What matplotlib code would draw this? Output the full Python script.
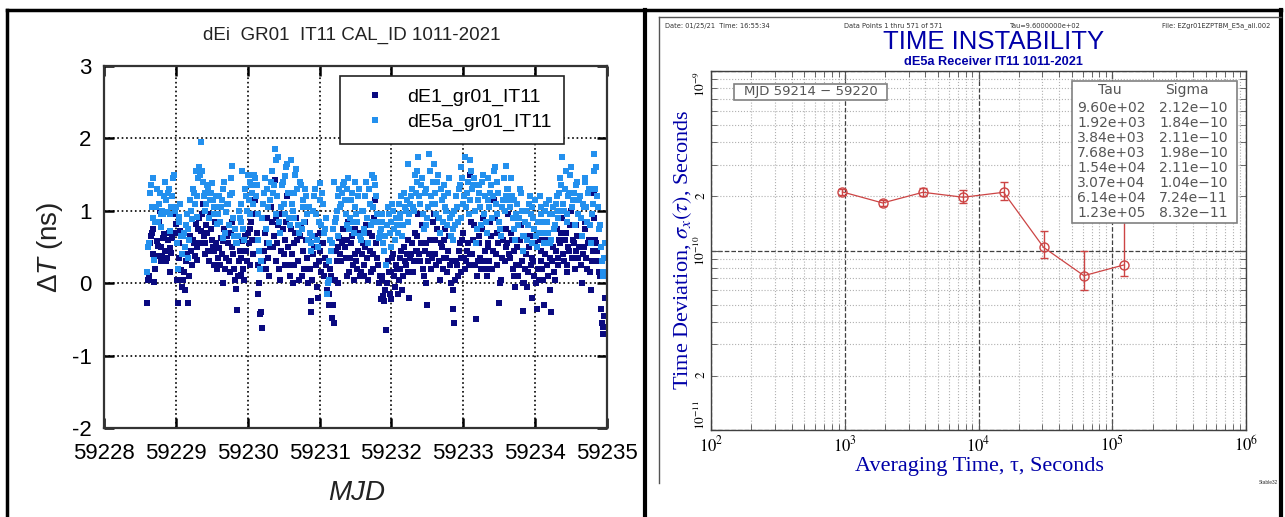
import matplotlib
matplotlib.use('Agg')
import matplotlib.pyplot as plt
from matplotlib import font_manager
from matplotlib.lines import Line2D
from matplotlib.ticker import FuncFormatter, NullFormatter
import numpy as np

W, H = 1285, 517
plt.rcParams['font.family'] = ['Liberation Sans', 'DejaVu Sans']
plt.rcParams['mathtext.fontset'] = 'stix'
plt.rcParams['mathtext.rm'] = 'Liberation Sans'
plt.rcParams['mathtext.it'] = 'Liberation Sans:italic'

# narrow face for the Stable32 titles if it is there
try:
    font_manager.findfont('Liberation Sans Narrow', fallback_to_default=False)
    narrow, title_fs, sub_fs = 'Liberation Sans Narrow', 23, 11
except Exception:
    narrow, title_fs, sub_fs = 'Liberation Sans', 18.5, 9.2

# ---------------- left panel data: delta T (ns), one value every 0.025 d
# plus a second list for the samples half way between
t_start = 59228.60
t_step = 0.025
dE1 = [
    -0.28, 0.10, 0.65, 0.75, 0.02, 0.38, 0.52, 1.00, 0.30, 0.62,
    0.45, 0.35, 0.70, 0.15, 0.62, 1.05, 0.82, -0.27, 0.55, 0.18,
    0.05, -0.10, 0.40, -0.27, 0.65, 0.25, 0.55, 0.82, 0.32, 0.90,
    0.72, 1.10, 0.55, 0.80, 0.45, 0.95, 0.60, 0.25, 0.85, 0.20,
    0.48, 0.62, 0.00, 0.75, 0.35, 0.55, 0.15, 0.85, 0.40, 0.05,
    -0.37, 0.30, 0.12, 0.58, 0.05, 0.45, 0.70, 0.25, 0.85, 0.40,
    1.15, 0.70, -0.15, -0.42, -0.62, 0.45, 0.20, 0.90, 0.10, 1.05,
    0.50, 1.42, 0.30, 0.80, 0.05, 0.95, 0.40, 0.60, 1.20, 0.25,
    0.75, 0.00, 0.55, 0.90, 0.30, 0.65, 0.10, 0.45, 0.85, 0.35,
    0.60, -0.40, 0.05, 0.50, 0.25, -0.20, 0.70, 0.15, 0.55, 0.35,
    -0.10, -0.30, 0.20, -0.48, -0.55, 0.45, 0.00, 0.62, 0.30, 0.75,
    0.50, 0.10, 0.85, 0.35, 0.65, 0.05, 0.40, 0.20, 0.70, 0.15,
    0.55, 0.25, 0.80, 0.05, 0.45, 0.65, 0.20, 1.15, 0.35, 0.00,
    -0.22, 0.10, -0.25, -0.65, 0.30, -0.15, 0.15, 0.40, -0.05, 0.20,
    0.05, 0.35, -0.10, 0.50, 0.25, 0.60, -0.20, 0.40, 0.15, 0.70,
    0.45, 0.95, 0.30, 0.80, 0.10, 0.55, -0.30, 0.40, 0.20, 0.85,
    0.60, 0.25, 0.90, 0.05, 0.50, 0.35, 0.75, 0.15, 0.65, 0.00,
    -0.35, -0.55, 0.30, 0.10, 0.55, 0.35, 0.70, 0.20, 0.45, 0.25,
    1.50, 0.40, 0.80, -0.50, 0.30, 0.65, 0.20, 0.90, 0.45, 0.10,
    0.55, 0.85, 0.20, 1.15, 0.40, 0.70, -0.28, 0.05, 0.60, 0.30,
    0.75, 0.95, 0.35, 0.60, 0.10, -0.05, 0.50, 0.25, 0.80, -0.38,
    0.00, 0.40, 0.15, 0.65, -0.20, 0.30, 0.55, -0.35, 0.05, 0.45,
    0.20, -0.30, 0.60, 0.10, 0.35, -0.40, 0.50, 0.05, 0.75, 0.25,
    0.55, 0.90, 0.30, 0.70, 0.15, 0.45, 1.00, 0.60, 0.20, 0.80,
    0.35, 0.65, 0.00, 0.50, 0.85, 0.20, 0.60, -0.10, 0.45, 1.25,
    0.55, 0.30, 0.10, -0.55, -0.70, -0.20,
]
dE1_mid = [
    0.05, 0.55, 0.70, 0.40, 0.20, 0.58, 0.85, 0.50, 0.38, 0.68,
    0.30, 0.60, 0.48, 0.42, 0.95, 0.70, 0.05, 0.35, 0.72, -0.05,
    0.15, 0.30, -0.27, 0.10, 0.45, 0.60, 0.38, 0.50, 0.75, 0.55,
    0.95, 0.65, 0.40, 0.70, 0.30, 0.75, 0.50, 0.45, 0.55, 0.35,
    0.25, 0.40, 0.58, 0.20, 0.65, 0.30, 0.70, 0.50, 0.20, -0.08,
    0.10, 0.45, 0.35, 0.20, 0.65, 0.30, 0.55, 0.75, 0.60, 0.95,
    0.60, 0.25, 0.00, -0.40, 0.30, 0.70, 0.55, 0.35, 0.50, 0.85,
    0.65, 0.90, 0.55, 0.20, 0.45, 0.75, 0.25, 0.85, 0.50, 0.10,
    0.40, 0.25, 0.70, 0.60, 0.05, 0.80, 0.45, 0.20, 0.60, 0.00,
    0.20, -0.25, 0.40, 0.65, -0.05, 0.30, 0.45, 0.55, 0.10, 0.25,
    0.00, -0.15, 0.10, -0.30, 0.05, 0.30, 0.50, 0.40, 0.55, 0.60,
    0.35, 0.60, 0.15, 0.55, 0.25, 0.75, 0.30, 0.45, 0.10, 0.40,
    0.10, 0.50, 0.35, 0.70, 0.15, 0.40, 0.90, 0.55, 0.25, 0.10,
    0.05, -0.18, -0.10, 0.00, 0.15, -0.22, 0.35, 0.10, 0.25, -0.15,
    0.20, 0.45, 0.10, 0.30, 0.40, 0.15, 0.35, 0.55, 0.30, 0.45,
    0.65, 0.40, 0.55, 0.20, 0.45, 0.00, 0.30, 0.60, 0.35, 0.95,
    0.40, 0.75, 0.30, 0.55, 0.20, 0.60, 0.35, 0.45, 0.25, 0.30,
    -0.10, 0.05, 0.25, 0.45, 0.15, 0.60, 0.35, 0.30, 0.55, 0.40,
    0.85, 0.60, 0.25, 0.10, 0.55, 0.35, 0.75, 0.30, 0.20, 0.50,
    0.30, 0.65, 0.45, 0.90, 0.25, 0.55, 0.00, 0.35, 0.75, 0.50,
    0.55, 0.40, 0.70, 0.20, 0.45, 0.25, 0.10, 0.60, 0.30, 0.00,
    0.20, -0.05, 0.50, 0.25, 0.35, 0.10, 0.00, 0.20, 0.60, 0.30,
    0.05, 0.40, 0.25, 0.55, -0.10, 0.30, 0.15, 0.45, 0.35, 0.60,
    0.70, 0.40, 0.60, 0.25, 0.50, 0.80, 0.35, 0.55, 0.45, 0.65,
    0.50, 0.25, 0.40, 0.75, 0.35, 0.55, 0.15, 0.30, 0.90, 0.60,
    0.45, 0.15, -0.35, -0.60, -0.45,
]
dE5a = [
    0.15, 0.55, 1.35, 1.45, 0.32, 1.05, 0.85, 1.25, 0.78, 0.95,
    1.40, 0.98, 1.30, 0.72, 1.20, 1.50, 1.05, 0.20, 0.92, 0.65,
    0.65, 0.50, 0.95, 0.75, 1.15, 0.88, 1.25, 1.55, 0.92, 1.60,
    1.95, 1.40, 1.25, 1.10, 1.30, 1.15, 1.38, 0.95, 1.05, 0.82,
    1.20, 1.05, 0.62, 1.40, 0.98, 1.10, 1.22, 1.62, 0.90, 0.75,
    0.55, 1.00, 0.85, 1.55, 0.60, 1.20, 1.50, 0.95, 1.35, 1.10,
    1.45, 1.35, 0.60, 0.20, 0.90, 1.25, 0.75, 1.30, 0.55, 1.40,
    1.25, 1.85, 0.95, 1.75, 0.70, 1.35, 1.10, 1.48, 1.65, 0.90,
    1.70, 1.00, 1.25, 1.58, 0.80, 1.40, 0.75, 1.15, 1.30, 0.95,
    1.05, 0.45, 0.65, 1.20, 0.95, 0.50, 1.38, 0.80, 1.10, 0.75,
    -0.15, 0.05, 0.60, 0.55, 1.40, 0.90, 0.65, 1.30, 1.10, 1.35,
    1.15, 0.80, 1.45, 0.90, 1.25, 0.70, 1.05, 0.85, 1.30, 0.60,
    1.00, 0.75, 1.40, 0.55, 1.10, 1.50, 0.85, 1.35, 0.95, 0.62,
    0.75, 0.95, 0.45, 0.25, 1.05, 0.70, 0.85, 1.00, 0.60, 0.80,
    1.10, 0.90, 0.65, 1.25, 1.00, 1.65, 0.95, 1.20, 1.05, 1.50,
    1.55, 1.75, 1.10, 1.45, 0.75, 1.30, 0.90, 1.78, 1.20, 1.40,
    1.25, 0.95, 1.50, 0.70, 1.15, 1.35, 1.05, 0.80, 1.45, 0.65,
    0.60, 1.00, 1.20, 0.85, 1.35, 1.60, 1.10, 1.75, 1.25, 0.95,
    1.70, 1.30, 1.45, 0.55, 1.15, 1.35, 0.80, 1.50, 1.20, 0.70,
    1.45, 1.25, 0.90, 1.55, 1.10, 1.40, 0.85, 0.65, 1.15, 1.00,
    1.62, 1.30, 1.05, 1.20, 0.75, 0.60, 1.10, 0.90, 1.25, 0.45,
    0.65, 1.00, 0.80, 1.20, 0.55, 0.90, 1.15, 0.50, 0.70, 1.05,
    0.85, 0.55, 1.10, 0.70, 0.95, 0.60, 1.05, 0.80, 1.20, 0.90,
    1.45, 1.75, 1.00, 1.55, 0.85, 1.25, 1.60, 1.15, 0.80, 1.35,
    0.95, 1.20, 0.65, 1.05, 1.40, 0.85, 1.30, 0.55, 1.10, 1.78,
    1.60, 1.05, 0.80, 0.30, 0.10, 0.55,
]
dE5a_mid = [
    0.50, 1.25, 1.05, 0.90, 0.85, 1.30, 1.10, 0.95, 1.00, 1.20,
    1.15, 1.25, 0.95, 1.05, 1.45, 1.00, 0.55, 0.85, 1.10, 0.40,
    0.70, 0.80, 0.35, 0.60, 1.00, 1.30, 1.10, 1.20, 1.45, 1.50,
    1.55, 1.20, 1.00, 1.35, 0.90, 1.25, 1.15, 1.05, 1.20, 0.95,
    0.85, 1.15, 1.30, 0.70, 1.10, 0.80, 1.45, 1.25, 0.65, 0.55,
    0.65, 0.90, 1.10, 0.75, 1.30, 1.00, 1.15, 1.40, 1.25, 1.50,
    1.20, 0.95, 0.45, 0.30, 1.10, 1.45, 1.30, 1.05, 1.15, 1.55,
    1.35, 1.70, 1.20, 0.85, 1.05, 1.40, 0.95, 1.60, 1.25, 0.80,
    1.10, 0.90, 1.50, 1.30, 0.70, 1.35, 1.05, 0.85, 1.20, 0.60,
    0.70, 0.55, 1.00, 1.30, 0.60, 0.85, 1.15, 1.25, 0.70, 0.90,
    0.00, 0.30, 0.45, 0.75, 0.85, 1.00, 1.20, 1.05, 1.25, 1.40,
    0.95, 1.30, 0.75, 1.15, 0.85, 1.40, 0.95, 1.20, 0.65, 1.00,
    0.70, 1.20, 0.90, 1.30, 0.80, 1.05, 1.45, 1.20, 0.85, 0.70,
    0.85, 0.55, 0.65, 0.80, 0.95, 0.50, 1.10, 0.75, 0.90, 0.70,
    0.95, 1.20, 0.80, 1.05, 1.15, 0.85, 1.10, 1.30, 1.00, 1.25,
    1.40, 1.20, 1.35, 0.95, 1.25, 0.80, 1.05, 1.55, 1.10, 1.65,
    1.10, 1.40, 0.90, 1.30, 0.85, 1.20, 1.00, 1.25, 0.90, 0.95,
    0.75, 0.80, 1.05, 1.30, 0.90, 1.45, 1.20, 1.05, 1.40, 1.15,
    1.55, 1.35, 1.00, 0.75, 1.25, 1.05, 1.40, 0.95, 0.85, 1.15,
    1.05, 1.35, 1.20, 1.60, 0.95, 1.25, 0.75, 1.05, 1.45, 1.20,
    1.30, 1.15, 1.45, 0.90, 1.15, 0.95, 0.80, 1.30, 1.00, 0.65,
    0.85, 0.60, 1.10, 0.95, 1.05, 0.75, 0.65, 0.85, 1.20, 0.95,
    0.70, 1.00, 0.85, 1.15, 0.55, 0.95, 0.75, 1.10, 1.00, 1.25,
    1.35, 1.10, 1.30, 0.95, 1.20, 1.50, 1.05, 1.25, 1.15, 1.40,
    1.15, 0.90, 1.10, 1.45, 1.05, 1.25, 0.80, 0.95, 1.55, 1.30,
    1.20, 0.75, 0.50, 0.15, 0.35,
]
mjd = t_start + t_step * np.arange(len(dE1))
mjd_mid = t_start + t_step / 2 + t_step * np.arange(len(dE1_mid))

# ---------------- right panel data (Stable32 TDEV table)
tau = [9.60e+02, 1.92e+03, 3.84e+03, 7.68e+03, 1.54e+04, 3.07e+04, 6.14e+04, 1.23e+05]
sigma = [2.12e-10, 1.84e-10, 2.11e-10, 1.98e-10, 2.11e-10, 1.04e-10, 7.24e-11, 8.32e-11]
sig_lo = [2.04e-10, 1.77e-10, 2.00e-10, 1.83e-10, 1.92e-10, 9.1e-11, 6.03e-11, 7.2e-11]
sig_hi = [2.20e-10, 1.91e-10, 2.24e-10, 2.16e-10, 2.42e-10, 1.28e-10, 9.94e-11, 2.0e-10]
tau_txt = ['9.60e+02', '1.92e+03', '3.84e+03', '7.68e+03', '1.54e+04', '3.07e+04', '6.14e+04', '1.23e+05']
sig_txt = ['2.12e\u221210', '1.84e\u221210', '2.11e\u221210', '1.98e\u221210', '2.11e\u221210',
           '1.04e\u221210', '7.24e\u221211', '8.32e\u221211']
two_ticks = [2e-11, 2e-10]


def fx(x):
    return x / W


def fy(y):
    return 1 - y / H


def minor_label(v, pos):
    for t in two_ticks:
        if abs(v / t - 1) < 1e-6:
            return '$2$'
    return ''


fig = plt.figure(figsize=(W / 100, H / 100), dpi=100)

# frame lines of the composite picture
for xs, ys, lw, c in [([7, 1281], [10, 10], 2.5, 'k'),
                      ([7, 7], [10, 517], 2.5, 'k'),
                      ([645, 645], [10, 517], 3, 'k'),
                      ([1281, 1281], [10, 517], 3, 'k'),
                      ([659, 1281], [17, 17], 1, '#555555'),
                      ([659, 659], [17, 483], 1, '#555555')]:
    fig.add_artist(Line2D([fx(v) for v in xs], [fy(v) for v in ys], lw=lw, color=c))

# ================= left panel
dark, light = '#0a0a80', '#2390ee'
ax1 = fig.add_axes([fx(104), fy(428), (607 - 104) / W, (428 - 66) / H])
ax1.plot(mjd, dE1, 's', color=dark, ms=4.0, mew=0, label='dE1_gr01_IT11')
ax1.plot(mjd_mid, dE1_mid, 's', color=dark, ms=4.0, mew=0)
ax1.plot(mjd, dE5a, 's', color=light, ms=4.0, mew=0, label='dE5a_gr01_IT11')
ax1.plot(mjd_mid, dE5a_mid, 's', color=light, ms=4.0, mew=0)
ax1.set_xlim(59228, 59235)
ax1.set_ylim(-2, 3)
ax1.set_xticks(np.arange(59228, 59236, 1))
ax1.set_xticklabels([str(v) for v in range(59228, 59236)])
ax1.set_yticks([-2, -1, 0, 1, 2, 3])
ax1.set_yticklabels(['-2', '-1', '0', '1', '2', '3'])
ax1.grid(True, ls=':', color='k', lw=1.2)
ax1.tick_params(direction='in', top=True, right=True, length=7, width=1.8,
                labelsize=16)
ax1.tick_params(axis='x', pad=11)
ax1.tick_params(axis='y', pad=9)
for s in ax1.spines.values():
    s.set_linewidth(1.6)
    s.set_color('#333333')
leg = ax1.legend(loc='upper right', bbox_to_anchor=((564 - 104) / 503, (428 - 76) / 362),
                 fontsize=14, frameon=True, fancybox=False, framealpha=1,
                 edgecolor='#222222', borderaxespad=0, markerscale=1.0,
                 handlelength=2.3, handletextpad=0.5, borderpad=0.65, labelspacing=0.35)
leg.get_frame().set_linewidth(1.2)
fig.text(fx(352), fy(35), 'dEi  GR01  IT11 CAL_ID 1011-2021', ha='center', va='center',
         fontsize=13.5, color='#222222')
fig.text(fx(357), fy(493), 'MJD', ha='center', va='center', fontsize=20,
         style='italic', color='#222222')
fig.text(fx(50), fy(247), '\u0394$T$ (ns)', ha='center', va='center', fontsize=20,
         rotation=90, color='#222222', math_fontfamily='custom')

# ================= right panel
blue = '#0000a8'
serif = ['Liberation Serif', 'DejaVu Serif']
ax2 = fig.add_axes([fx(711), fy(430), (1246 - 711) / W, (430 - 71) / H])
ax2.set_xscale('log')
ax2.set_yscale('log')
ax2.set_xlim(1e2, 1e6)
ax2.set_ylim(1e-11, 1e-9)
ax2.grid(True, which='minor', ls=':', color='#b0b0b0', lw=0.8)
ax2.grid(True, which='major', ls='--', color='#404040', lw=0.9)
ax2.tick_params(which='both', direction='in', top=True, right=True, color='#555555')
ax2.tick_params(which='major', length=7)
ax2.tick_params(which='minor', length=4)
ax2.set_xticks([1e2, 1e3, 1e4, 1e5, 1e6])
ax2.set_xticklabels(['$10^2$', '$10^3$', '$10^4$', '$10^5$', '$10^6$'], fontsize=12)
ax2.tick_params(axis='x', pad=3)
ax2.xaxis.set_minor_formatter(NullFormatter())
ax2.yaxis.set_minor_formatter(FuncFormatter(minor_label))
ax2.tick_params(axis='y', which='both', pad=2, labelrotation=90, labelsize=9.5)
ax2.set_yticks([1e-11, 1e-10, 1e-9])
ax2.set_yticklabels(['$10^{-11}$', '$10^{-10}$', '$10^{-9}$'], fontsize=9.5, rotation=90)
ylabs = ax2.get_yticklabels()
ylabs[0].set_va('bottom')
ylabs[1].set_va('center')
ylabs[2].set_va('top')
for s in ax2.spines.values():
    s.set_color('#404040')
    s.set_linewidth(1)

yerr = [np.array(sigma) - np.array(sig_lo), np.array(sig_hi) - np.array(sigma)]
ax2.errorbar(tau, sigma, yerr=yerr, fmt='o-', color='#cc4444', ms=6.5, mfc='none',
             mew=1, lw=0.9, capsize=3, elinewidth=1, zorder=3)

# table and MJD label boxes
fig.patches.append(plt.Rectangle((fx(1072), fy(223)), (1237 - 1072) / W, (223 - 81) / H,
                                 transform=fig.transFigure, facecolor='white',
                                 edgecolor='#808080', lw=1.2, zorder=5))
fig.patches.append(plt.Rectangle((fx(734), fy(100)), (887 - 734) / W, (100 - 84) / H,
                                 transform=fig.transFigure, facecolor='white',
                                 edgecolor='#808080', lw=1.2, zorder=5))
gray = '#555555'
fig.text(fx(811), fy(92), 'MJD 59214 \u2212 59220', ha='center', va='center',
         fontsize=9.5, color=gray, family='DejaVu Sans', zorder=6)
fig.text(fx(1110), fy(90), 'Tau', ha='center', va='center', fontsize=10, color=gray,
         family='DejaVu Sans', zorder=6)
fig.text(fx(1187), fy(90), 'Sigma', ha='center', va='center', fontsize=10, color=gray,
         family='DejaVu Sans', zorder=6)
for i in range(len(tau_txt)):
    yy = 108 + 15 * i
    fig.text(fx(1077), fy(yy), tau_txt[i], ha='left', va='center', fontsize=10,
             color=gray, family='DejaVu Sans', zorder=6)
    fig.text(fx(1159), fy(yy), sig_txt[i], ha='left', va='center', fontsize=10,
             color=gray, family='DejaVu Sans', zorder=6)

# headers
small = dict(fontsize=4.8, color='#333333', va='center', family='DejaVu Sans')
fig.text(fx(665), fy(26), 'Date: 01/25/21  Time: 16:55:34', ha='left', **small)
fig.text(fx(893), fy(26), 'Data Points 1 thru 571 of 571', ha='center', **small)
fig.text(fx(1045), fy(26), 'Tau=9.6000000e+02', ha='center', **small)
fig.text(fx(1270), fy(26), 'File: EZgr01EZPTBM_E5a_all.002', ha='right', **small)
fig.text(fx(994), fy(42), 'TIME INSTABILITY', ha='center', va='center',
         fontsize=title_fs, color=blue, family=narrow)
fig.text(fx(993), fy(62), 'dE5a Receiver IT11 1011-2021', ha='center', va='center',
         fontsize=sub_fs, color=blue, weight='bold', family=narrow)
fig.text(fx(683), fy(250), r'Time Deviation, $\sigma_x(\tau)$, Seconds', ha='center',
         va='center', rotation=90, fontsize=16, color=blue, family=serif)
fig.text(fx(979), fy(466), 'Averaging Time, \u03c4, Seconds', ha='center', va='center',
         fontsize=16, color=blue, family=serif)
fig.text(fx(1268), fy(482), 'Stable32', ha='center', va='center', fontsize=3.5,
         color='#333333')

fig.savefig('out.png', dpi=100)
